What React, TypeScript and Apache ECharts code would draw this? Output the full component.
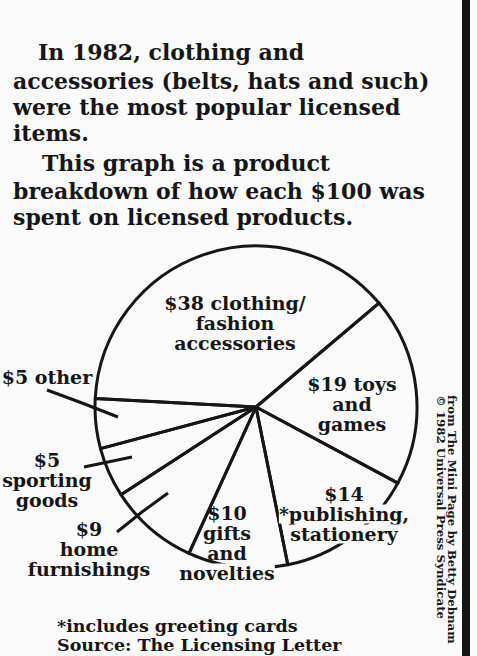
import React, { useEffect, useRef } from "react";
import * as echarts from "echarts";

// ---- data ----
const CATEGORIES = [
  "clothing/fashion accessories",
  "toys and games",
  "*publishing, stationery",
  "gifts and novelties",
  "home furnishings",
  "sporting goods",
  "other",
];
const VALUES = [38, 19, 14, 10, 9, 5, 5];
// label lines; "{v}" is replaced with the dollar value
const LABEL_LINES = [
  ["{v} clothing/", "fashion", "accessories"],
  ["{v} toys", "and", "games"],
  ["{v}", "*publishing,", "stationery"],
  ["{v}", "gifts", "and", "novelties"],
  ["{v}", "home", "furnishings"],
  ["{v}", "sporting", "goods"],
  ["{v} other"],
];
const INTRO_LINES = [
  "In 1982, clothing and",
  "accessories (belts, hats and such)",
  "were the most popular licensed",
  "items.",
  "This graph is a product",
  "breakdown of how each $100 was",
  "spent on licensed products.",
];
const FOOTNOTES = ["*includes greeting cards", "Source: The Licensing Letter"];
const CREDITS = ["from The Mini Page by Betty Debnam", "\u00a9 1982 Universal Press Syndicate"];

// ---- layout / style ----
const W = 477;
const H = 656;
const BG = "#fafafa";
const INK = "#161616";
const FONT = '"DejaVu Serif", serif';
const INTRO_X = [38, 13, 13, 13, 42, 13, 13];
const INTRO_Y = [52, 81, 107, 133, 163, 191, 217];
const LABEL_POS = [
  [235, 323],
  [352, 404],
  [344, 514],
  [227, 543],
  [89, 549],
  [47, 480],
  [47, 377],
];
const LEADERS: Record<number, number[][]> = {
  4: [[168, 493], [142, 512], [117, 532]],
  5: [[132, 457], [108, 462], [84, 467]],
  6: [[118, 417], [82, 403], [47, 390]],
};
// lines of a label that blank out the pie outline behind them
const KNOCKOUT: Record<number, number[]> = { 2: [1, 2], 3: [3] };

export default function App() {
  const ref = useRef<HTMLDivElement>(null);
  useEffect(() => {
    document.body.style.margin = "0";
    const chart = echarts.init(ref.current!, undefined, { renderer: "svg" });
    const data = CATEGORIES.map((name, i) => ({
      name,
      value: VALUES[i],
      labelLine: { show: !!LEADERS[i] },
    }));
    const graphics: any[] = [];
    INTRO_LINES.forEach((t, i) =>
      graphics.push({
        type: "text",
        x: INTRO_X[i],
        y: INTRO_Y[i],
        style: {
          text: t,
          fontFamily: FONT,
          fontWeight: "bold",
          fontSize: 22,
          fill: INK,
          align: "left",
          verticalAlign: "middle",
        },
      })
    );
    graphics.push({
      type: "text",
      x: 57,
      y: 635,
      style: {
        text: FOOTNOTES.join("\n"),
        fontFamily: FONT,
        fontWeight: "bold",
        fontSize: 17.5,
        lineHeight: 19,
        fill: INK,
        align: "left",
        verticalAlign: "middle",
      },
    });
    graphics.push({
      type: "text",
      x: 446.5,
      y: 395,
      rotation: -Math.PI / 2,
      style: {
        text: CREDITS.join("\n"),
        fontFamily: FONT,
        fontWeight: "bold",
        fontSize: 11.8,
        lineHeight: 11,
        fill: INK,
        align: "left",
        verticalAlign: "middle",
      },
    });
    graphics.push({
      type: "rect",
      shape: { x: 462, y: 0, width: 8, height: H },
      style: { fill: INK },
    });

    const labelStyle = { color: INK, fontFamily: FONT, fontWeight: "bold", fontSize: 19, lineHeight: 20 };

    chart.setOption({
      animation: false,
      backgroundColor: BG,
      graphic: graphics,
      series: [
        {
          type: "pie",
          center: [256, 407],
          radius: 161,
          startAngle: 177,
          clockwise: true,
          avoidLabelOverlap: false,
          silent: true,
          emphasis: { disabled: true },
          itemStyle: { color: "rgba(0,0,0,0)", borderColor: INK, borderWidth: 3 },
          label: {
            show: true,
            position: "outside",
            ...labelStyle,
            formatter: (p: any) => {
              const lines = LABEL_LINES[p.dataIndex].map((l) => l.replace("{v}", "$" + p.value));
              const ko = KNOCKOUT[p.dataIndex] || [];
              return lines.map((l, j) => (ko.includes(j) ? `{k|${l}}` : `{t|${l}}`)).join("\n");
            },
            rich: {
              t: { ...labelStyle },
              k: { ...labelStyle, backgroundColor: BG },
            },
          },
          labelLine: { show: false, lineStyle: { color: INK, width: 3 } },
          labelLayout: (params: any) => {
            const i = params.dataIndex;
            const res: any = {
              x: LABEL_POS[i][0],
              y: LABEL_POS[i][1],
              align: "center",
              verticalAlign: "middle",
            };
            if (LEADERS[i]) res.labelLinePoints = LEADERS[i];
            return res;
          },
          data,
        },
      ],
    });
    return () => chart.dispose();
  }, []);
  return (
    <div
      ref={ref}
      style={{ position: "absolute", left: 0, top: 0, width: W, height: H, background: BG }}
    />
  );
}
